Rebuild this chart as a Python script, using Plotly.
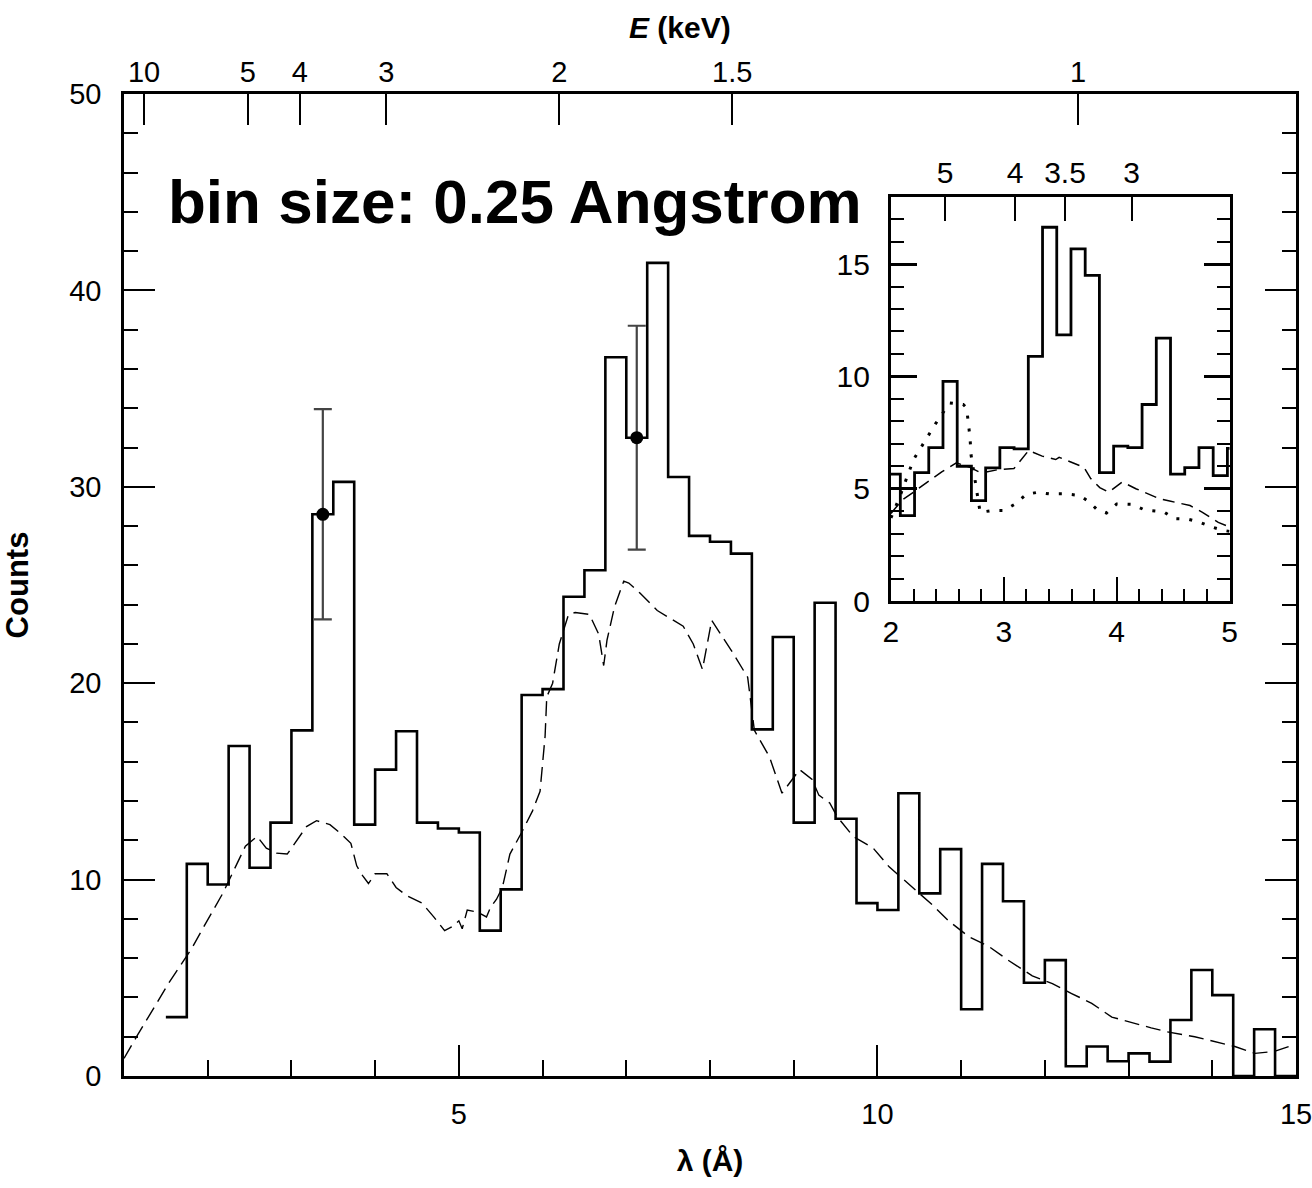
import plotly.graph_objects as go

HC = 12.398  # keV * Angstrom, converts photon energy to wavelength

# ---- main spectrum: counts in 0.25 Angstrom bins, starting at 1.5 Angstrom ----
bin_start = 1.5
bin_width = 0.25
counts = [
    3.0, 10.8, 9.75, 16.8, 10.6, 12.9, 17.6, 28.6, 30.25, 12.8,
    15.6, 17.55, 12.9, 12.6, 12.4, 7.4, 9.5, 19.4, 19.7, 24.4,
    25.75, 36.6, 32.5, 41.4, 30.5, 27.5, 27.2, 26.6, 17.65, 22.35,
    12.9, 24.1, 13.1, 8.8, 8.45, 14.4, 9.3, 11.55, 3.4, 10.8,
    8.9, 4.75, 5.9, 0.5, 1.5, 0.75, 1.15, 0.73, 2.85, 5.4,
    4.12, 0.0, 2.38, 0.0,
]

# model spectrum (dashed)
model_wavelength = [
    1.0, 1.15, 1.53, 1.81, 1.92, 2.18, 2.45, 2.59, 2.7, 2.82, 2.95, 3.07,
    3.18, 3.3, 3.46, 3.6, 3.71, 3.78, 3.85, 3.92, 4.0, 4.14, 4.25, 4.37,
    4.56, 4.7, 4.83, 4.92, 5.0, 5.04, 5.1, 5.22, 5.33, 5.38, 5.45, 5.52,
    5.61, 5.75, 5.88, 5.97, 6.03, 6.05, 6.12, 6.2, 6.31, 6.39, 6.56, 6.67,
    6.73, 6.77, 6.86, 6.97, 7.03, 7.16, 7.37, 7.68, 7.8, 7.91, 8.02, 8.25,
    8.45, 8.53, 8.71, 8.86, 9.07, 9.22, 9.3, 9.43, 9.52, 9.71, 9.95, 10.14,
    10.42, 10.66, 10.85, 11.09, 11.33, 11.56, 11.85, 12.09, 12.32, 12.56,
    12.8, 13.04, 13.27, 13.46, 13.79, 14.27, 14.51, 14.74, 14.98,
]
model_counts = [
    0.9, 2.0, 4.7, 6.5, 7.35, 9.3, 11.7, 12.2, 11.6, 11.35, 11.3, 12.0,
    12.7, 13.0, 12.8, 12.3, 11.85, 10.7, 10.2, 9.8, 10.3, 10.3, 9.6, 9.2,
    8.8, 8.1, 7.4, 7.6, 7.9, 7.5, 8.45, 8.35, 8.1, 8.6, 9.0, 9.6,
    11.3, 12.4, 13.5, 14.5, 17.3, 19.3, 20.0, 22.0, 23.5, 23.6, 23.5, 22.5,
    20.9, 22.2, 23.9, 25.2, 25.1, 24.6, 23.7, 22.9, 22.0, 20.7, 23.2, 21.7,
    20.3, 17.6, 16.25, 14.4, 15.6, 15.1, 14.3, 13.9, 13.2, 12.2, 11.6, 10.65,
    9.6, 8.7, 7.9, 7.1, 6.6, 5.9, 5.1, 4.7, 4.2, 3.7,
    3.0, 2.7, 2.45, 2.25, 2.0, 1.5, 1.15, 1.25, 1.6,
]

# two bins shown with their Poisson errors
err_wavelength = [3.375, 7.125]
err_counts = [28.6, 32.5]
err_sigma = [5.35, 5.7]

# top axis: photon energy in keV
energy_ticks = [10, 5, 4, 3, 2, 1.5, 1]
energy_labels = ["10", "5", "4", "3", "2", "1.5", "1"]

# ---- inset: finer binning of the 2-5 Angstrom region ----
inset_bin_start = 1.957
inset_bin_width = 0.126
inset_counts = [
    5.65, 3.8, 5.72, 6.83, 9.78, 6.0, 4.47, 5.93, 6.83, 6.77,
    10.89, 16.64, 11.85, 15.68, 14.5, 5.72, 6.9, 6.83, 8.75, 11.7,
    5.65, 5.94, 6.83, 5.58, 6.8,
]

inset_model_wavelength = [
    2.0, 2.1, 2.2, 2.35, 2.45, 2.58, 2.7, 2.8, 2.95, 3.09, 3.19, 3.22,
    3.34, 3.46, 3.49, 3.64, 3.71, 3.77, 3.85, 3.93, 4.05, 4.17, 4.29,
    4.38, 4.47, 4.65, 4.76, 4.9, 5.0,
]
inset_model_counts = [
    3.9, 4.5, 4.85, 5.4, 5.75, 6.15, 5.95, 5.7, 5.85, 5.9, 6.5, 6.7,
    6.45, 6.3, 6.4, 6.1, 5.95, 5.45, 5.05, 4.85, 5.3, 5.0, 4.75,
    4.55, 4.45, 4.25, 3.95, 3.5, 3.3,
]

inset_alt_wavelength = [
    2.0, 2.075, 2.2, 2.33, 2.4, 2.52, 2.64, 2.67, 2.7, 2.71, 2.75, 2.79,
    2.9, 3.0, 3.1, 3.2, 3.3, 3.4, 3.55, 3.67, 3.76, 3.83, 3.91, 4.0,
    4.14, 4.25, 4.35, 4.42, 4.51, 4.63, 4.74, 4.84, 4.94, 5.0,
]
inset_alt_counts = [
    3.7, 4.6, 6.3, 7.35, 7.93, 8.82, 8.75, 8.6, 7.3, 6.5, 5.2, 3.95,
    4.03, 4.03, 4.32, 4.75, 4.84, 4.77, 4.77, 4.7, 4.4, 4.05, 3.92, 4.32,
    4.3, 4.05, 4.0, 3.96, 3.67, 3.65, 3.5, 3.3, 3.15, 3.1,
]

inset_energy_ticks = [5, 4, 3.5, 3]
inset_energy_labels = ["5", "4", "3.5", "3"]


def step_xy(start, width, values):
    edges = [start + i * width for i in range(len(values) + 1)]
    return edges, list(values) + [values[-1]]


FONT = "Liberation Sans, Arial, Helvetica, sans-serif"
BLACK = "#000000"

fig = go.Figure()

# main histogram
hx, hy = step_xy(bin_start, bin_width, counts)
fig.add_trace(go.Scatter(
    x=hx, y=hy, mode="lines", line=dict(shape="hv", color=BLACK, width=2.6),
    xaxis="x", yaxis="y", hoverinfo="skip",
))
# model curve
fig.add_trace(go.Scatter(
    x=model_wavelength, y=model_counts, mode="lines",
    line=dict(color=BLACK, width=1.4, dash="15px,7px"),
    xaxis="x", yaxis="y", hoverinfo="skip",
))
# data points with error bars
fig.add_trace(go.Scatter(
    x=err_wavelength, y=err_counts, mode="markers",
    marker=dict(color=BLACK, size=13, symbol="circle"),
    error_y=dict(type="data", array=err_sigma, visible=True,
                 color="#444444", thickness=2.2, width=9),
    xaxis="x", yaxis="y", hoverinfo="skip",
))
# carrier for the energy axis on top
fig.add_trace(go.Scatter(x=[None], y=[None], xaxis="x2", yaxis="y",
                         showlegend=False, hoverinfo="skip"))

# inset histogram and models
ix, iy = step_xy(inset_bin_start, inset_bin_width, inset_counts)
fig.add_trace(go.Scatter(
    x=ix, y=iy, mode="lines", line=dict(shape="hv", color=BLACK, width=2.8),
    xaxis="x3", yaxis="y3", hoverinfo="skip",
))
fig.add_trace(go.Scatter(
    x=inset_model_wavelength, y=inset_model_counts, mode="lines",
    line=dict(color=BLACK, width=1.5, dash="12px,7px"),
    xaxis="x3", yaxis="y3", hoverinfo="skip",
))
fig.add_trace(go.Scatter(
    x=inset_alt_wavelength, y=inset_alt_counts, mode="lines",
    line=dict(color=BLACK, width=3, dash="3px,10px"),
    xaxis="x3", yaxis="y3", hoverinfo="skip",
))
fig.add_trace(go.Scatter(x=[None], y=[None], xaxis="x4", yaxis="y3",
                         showlegend=False, hoverinfo="skip"))

tick_font = dict(family=FONT, size=29, color=BLACK)
inset_tick_font = dict(family=FONT, size=30, color=BLACK)

common = dict(showgrid=False, zeroline=False, color=BLACK, automargin=False)

fig.update_layout(
    width=1312, height=1188,
    margin=dict(l=124, r=16, t=94, b=112),
    paper_bgcolor="white", plot_bgcolor="white",
    showlegend=False,
    font=dict(family=FONT, color=BLACK),
    xaxis=dict(
        domain=[0, 1], anchor="y", range=[1, 15],
        tickmode="array", tickvals=[5, 10, 15], ticktext=["5", "10", "15"],
        ticks="inside", ticklen=31, tickwidth=2.2, tickcolor=BLACK,
        minor=dict(tickmode="linear", tick0=0, dtick=1, ticks="inside",
                   ticklen=16, tickwidth=2, tickcolor=BLACK),
        showline=True, linewidth=2.6, linecolor=BLACK, mirror=True,
        tickfont=tick_font, ticklabelstandoff=10, ticklabeloverflow="allow",
        title=dict(text="<b>λ (Å)</b>", font=dict(family=FONT, size=30),
                   standoff=22),
        **common,
    ),
    xaxis2=dict(
        overlaying="x", anchor="y", side="top", range=[1, 15],
        tickmode="array", tickvals=[HC / e for e in energy_ticks],
        ticktext=energy_labels,
        ticks="inside", ticklen=31, tickwidth=2.2, tickcolor=BLACK,
        showline=False, tickfont=tick_font, ticklabelstandoff=5,
        **common,
    ),
    yaxis=dict(
        domain=[0, 1], anchor="x", range=[0, 50],
        tickmode="array", tickvals=[0, 10, 20, 30, 40, 50],
        ticks="inside", ticklen=31, tickwidth=2.2, tickcolor=BLACK,
        minor=dict(tickmode="linear", tick0=0, dtick=2, ticks="inside",
                   ticklen=14, tickwidth=2, tickcolor=BLACK),
        showline=True, linewidth=2.6, linecolor=BLACK, mirror="ticks",
        tickfont=tick_font, ticklabelstandoff=14,
        title=dict(text="<b>Counts</b>", font=dict(family=FONT, size=31),
                   standoff=34),
        **common,
    ),
    xaxis3=dict(
        domain=[0.6544, 0.9433], anchor="y3", range=[2, 5],
        tickmode="array", tickvals=[2, 3, 4, 5],
        ticks="inside", ticklen=24, tickwidth=2.4, tickcolor=BLACK,
        minor=dict(tickmode="linear", tick0=0, dtick=0.2, ticks="inside",
                   ticklen=12, tickwidth=2.2, tickcolor=BLACK),
        showline=True, linewidth=3, linecolor=BLACK, mirror=True,
        tickfont=inset_tick_font, ticklabelstandoff=2,
        **common,
    ),
    xaxis4=dict(
        overlaying="x3", anchor="y3", side="top", range=[2, 5],
        tickmode="array", tickvals=[HC / e for e in inset_energy_ticks],
        ticktext=inset_energy_labels,
        ticks="inside", ticklen=24, tickwidth=2.2, tickcolor=BLACK,
        showline=False, tickfont=inset_tick_font, ticklabelstandoff=7,
        **common,
    ),
    yaxis3=dict(
        domain=[0.4837, 0.8954], anchor="x3", range=[0, 18],
        tickmode="array", tickvals=[0, 5, 10, 15],
        ticks="inside", ticklen=26, tickwidth=2.6, tickcolor=BLACK,
        minor=dict(tickmode="linear", tick0=0, dtick=1, ticks="inside",
                   ticklen=13, tickwidth=2.4, tickcolor=BLACK),
        showline=True, linewidth=3, linecolor=BLACK, mirror="ticks",
        tickfont=inset_tick_font, ticklabelstandoff=12,
        **common,
    ),
    annotations=[
        dict(text="<b><i>E</i> (keV)</b>", xref="paper", yref="paper",
             x=(680 - 124) / 1172, y=1 + (94 - 28) / 982,
             xanchor="center", yanchor="middle", showarrow=False,
             font=dict(family=FONT, size=30, color=BLACK)),
        dict(text="<b>bin size: 0.25 Angstrom</b>", xref="paper", yref="paper",
             x=(166 - 124) / 1172, y=(1076 - 202) / 982,
             xanchor="left", yanchor="middle", showarrow=False,
             font=dict(family=FONT, size=62, color=BLACK)),
    ],
)

fig.write_html("out.html")
